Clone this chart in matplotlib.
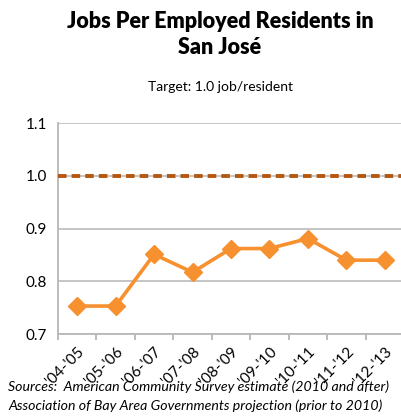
import matplotlib
matplotlib.use("Agg")
import matplotlib.pyplot as plt

plt.rcParams["font.family"] = ["Lato", "DejaVu Sans"]

years = ["'04-'05", "'05-'06", "'06-'07", "'07-'08", "'08-'09",
         "'09-'10", "'10-'11", "'11-'12", "'12-'13"]
jobs_ratio = [0.753, 0.753, 0.851, 0.817, 0.862, 0.862, 0.881, 0.840, 0.840]
target = 1.0
yticks = [0.7, 0.8, 0.9, 1.0, 1.1]

W, H = 402, 417
fig = plt.figure(figsize=(W / 100, H / 100), dpi=100)
ax = fig.add_axes([58 / W, 1 - 334 / H, (404 - 58) / W, (334 - 123) / H])

x = list(range(len(years)))
ax.set_xlim(-0.5, len(years) - 0.5)
ax.set_ylim(0.7, 1.1)
ax.set_yticks(yticks)
ax.set_yticklabels([f"{v:.1f}" for v in yticks], fontsize=11)
ax.grid(axis="y", color="#c0c0c0", linewidth=1.3)
ax.set_axisbelow(True)

ax.axhline(target, color="#b5570f", linewidth=2.8, linestyle=(0, (2.2, 1.3)), zorder=3)
ax.plot(x, jobs_ratio, color="#f7902e", linewidth=2.6, marker="D", markersize=9,
        zorder=4, clip_on=False)

ax.set_xticks([i + 0.5 for i in range(-1, len(years))], minor=False)
ax.set_xticklabels([])
ax.set_xticks(x, minor=True)
ax.set_xticklabels(years, minor=True, rotation=45, ha="right", va="top",
                   rotation_mode="anchor", fontsize=11)
ax.tick_params(axis="x", which="major", length=4, color="#b0b0b0", width=1.2)
ax.tick_params(axis="x", which="minor", length=0, pad=8)
ax.tick_params(axis="y", length=0, pad=8)

for s in ["top", "right"]:
    ax.spines[s].set_visible(False)
for s in ["left", "bottom"]:
    ax.spines[s].set_color("#b8b8b8")
    ax.spines[s].set_linewidth(1.3)

fig.text(220 / W, 1 - 22 / H, "Jobs Per Employed Residents in", ha="center", va="center",
         fontsize=15.5, fontweight="heavy")
fig.text(220 / W, 1 - 47 / H, "San José", ha="center", va="center",
         fontsize=15.5, fontweight="heavy")
fig.text(221 / W, 1 - 87 / H, "Target: 1.0 job/resident", ha="center", va="center",
         fontsize=10)
fig.text(8 / W, 1 - 387 / H, "Sources:  American Community Survey estimate (2010 and after)",
         ha="left", va="center", fontsize=10.2, style="italic")
fig.text(8 / W, 1 - 406 / H, "Association of Bay Area Governments projection (prior to 2010)",
         ha="left", va="center", fontsize=10.2, style="italic")

fig.savefig("out.png", dpi=100)
